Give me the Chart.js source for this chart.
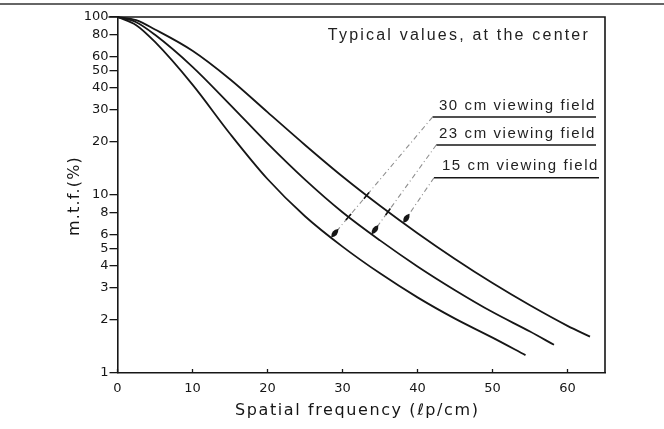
<!DOCTYPE html>
<html>
<head>
<meta charset="utf-8">
<script src="https://cdn.jsdelivr.net/npm/chart.js@4.4.1/dist/chart.umd.min.js"></script>
<style>
  html, body { margin: 0; padding: 0; background: #fff; }
  #wrap { width: 664px; height: 429px; }
</style>
</head>
<body>
<div id="wrap"><canvas id="mtf" width="664" height="429"></canvas></div>
<script>
// spatial frequency (lp/cm) and m.t.f. (%)
const freq30 = [0, 2.5, 5, 10, 15, 20, 25, 30, 35, 40, 45, 50, 54.4];
const mtf30 = [100, 90, 72.4, 41.7, 22.1, 12.3, 7.6, 5.13, 3.63, 2.66, 2.02, 1.58, 1.26];
const freq23 = [0, 2.5, 5, 10, 15, 20, 25, 30, 35, 40, 45, 50, 55, 58.2];
const mtf23 = [100, 93.5, 79.4, 52.5, 32.2, 19.5, 12.2, 8.0, 5.56, 3.97, 2.92, 2.2, 1.71, 1.44];
const freq15 = [0, 2.5, 5, 10, 15, 20, 25, 30, 35, 40, 45, 50, 55, 60, 63];
const mtf15 = [100, 96, 85.1, 64.6, 44.7, 29.2, 19.1, 12.7, 8.7, 6.1, 4.37, 3.2, 2.4, 1.84, 1.6];
const fieldLabels = ['30 cm viewing field', '23 cm viewing field', '15 cm viewing field'];
const xTicks = [0, 10, 20, 30, 40, 50, 60];
const yTicks = [1, 2, 3, 4, 5, 6, 8, 10, 20, 30, 40, 50, 60, 80, 100];
const note = 'Typical values, at the center';
const xTitle = 'Spatial frequency (ℓp/cm)';
const yTitle = 'm.t.f.(%)';

const series = [[freq30, mtf30], [freq23, mtf23], [freq15, mtf15]];

// where each label sits and where its leader points (data units)
const callouts = [
  { line: [42.0, 63.8], at: 27.4, arrowX: 28.5 },
  { line: [42.5, 63.8], at: 19.1, arrowX: 33.9 },
  { line: [42.2, 64.2], at: 12.5, arrowX: 38.1 }
];

const ink = '#161616';

function valueAt(s, x) {
  const xs = series[s][0], ys = series[s][1];
  if (x < xs[0] || x > xs[xs.length - 1]) return null;
  for (let i = 1; i < xs.length; i++) {
    if (x <= xs[i]) {
      const t = (x - xs[i - 1]) / (xs[i] - xs[i - 1]);
      const a = Math.log10(ys[i - 1]), b = Math.log10(ys[i]);
      return Math.pow(10, a + t * (b - a));
    }
  }
  return null;
}

function arrowHead(ctx, x, y, dx, dy) {
  const len = 11, w = 3.4;
  const nx = -dy, ny = dx;
  const bx = x + dx * len, by = y + dy * len;
  const mx = x + dx * len * 0.5, my = y + dy * len * 0.5;
  ctx.beginPath();
  ctx.moveTo(x, y);
  ctx.quadraticCurveTo(mx + nx * w * 1.5, my + ny * w * 1.5, bx, by);
  ctx.quadraticCurveTo(mx - nx * w * 1.5, my - ny * w * 1.5, x, y);
  ctx.fill();
}

const extras = {
  id: 'extras',
  afterDraw(chart) {
    const { ctx, chartArea: ca } = chart;
    const xs = chart.scales.x, ys = chart.scales.y;
    ctx.save();

    // scan border line at the top of the page
    ctx.strokeStyle = '#333';
    ctx.lineWidth = 1.5;
    ctx.beginPath();
    ctx.moveTo(0, 4); ctx.lineTo(664, 4);
    ctx.stroke();

    // frame top and right
    ctx.strokeStyle = ink;
    ctx.lineWidth = 1.6;
    ctx.beginPath();
    ctx.moveTo(ca.left - 9, ca.top);
    ctx.lineTo(ca.right, ca.top);
    ctx.lineTo(ca.right, ca.bottom);
    ctx.stroke();

    // inner x ticks
    ctx.lineWidth = 1.3;
    xTicks.forEach(v => {
      const px = xs.getPixelForValue(v);
      ctx.beginPath();
      ctx.moveTo(px, ca.bottom);
      ctx.lineTo(px, ca.bottom - 4);
      ctx.stroke();
    });

    // axis titles, letter-spaced like the print
    ctx.fillStyle = ink;
    ctx.font = '16px "DejaVu Sans"';
    ctx.letterSpacing = '1.6px';
    ctx.textAlign = 'center';
    ctx.textBaseline = 'middle';
    ctx.fillText(xTitle, (ca.left + ca.right) / 2 - 4, 411);
    ctx.save();
    ctx.translate(75, (ca.top + ca.bottom) / 2 + 1);
    ctx.rotate(-Math.PI / 2);
    ctx.letterSpacing = '1.2px';
    ctx.fillText(yTitle, 0, 0);
    ctx.restore();

    // note
    ctx.fillStyle = '#222';
    ctx.font = '16px "Liberation Sans"';
    ctx.letterSpacing = '2.2px';
    ctx.textAlign = 'right';
    ctx.textBaseline = 'middle';
    ctx.fillText(note, xs.getPixelForValue(63.0), ys.getPixelForValue(79));

    // callouts
    callouts.forEach((c, i) => {
      const x0 = xs.getPixelForValue(c.line[0]);
      const x1 = xs.getPixelForValue(c.line[1]);
      const y0 = ys.getPixelForValue(c.at);

      ctx.strokeStyle = ink;
      ctx.lineWidth = 1.5;
      ctx.setLineDash([]);
      ctx.beginPath();
      ctx.moveTo(x0, y0); ctx.lineTo(x1, y0);
      ctx.stroke();

      ctx.fillStyle = '#222';
      ctx.font = '15px "Liberation Sans"';
      ctx.letterSpacing = '1.6px';
      ctx.textAlign = 'right';
      ctx.textBaseline = 'bottom';
      ctx.fillText(fieldLabels[i], x1, y0 - 4);

      const tx = xs.getPixelForValue(c.arrowX);
      const ty = ys.getPixelForValue(valueAt(i, c.arrowX));
      const L = Math.hypot(tx - x0, ty - y0);
      const dx = (x0 - tx) / L, dy = (y0 - ty) / L;

      ctx.strokeStyle = '#8f8f8f';
      ctx.lineWidth = 1.1;
      ctx.setLineDash([5, 3, 1, 3]);
      ctx.beginPath();
      ctx.moveTo(x0, y0); ctx.lineTo(tx + dx * 9, ty + dy * 9);
      ctx.stroke();
      ctx.setLineDash([]);

      // small marks where the leader crosses the other curves
      for (let s = i + 1; s < series.length; s++) {
        let prev = null;
        for (let t = 0; t <= 1; t += 0.002) {
          const px = x0 + (tx - x0) * t, py = y0 + (ty - y0) * t;
          const v = valueAt(s, xs.getValueForPixel(px));
          if (v === null) { prev = null; continue; }
          const d = py - ys.getPixelForValue(v);
          if (prev !== null && Math.sign(d) !== Math.sign(prev)) {
            ctx.strokeStyle = ink;
            ctx.lineWidth = 1.6;
            ctx.beginPath();
            ctx.moveTo(px - dx * 4, py - dy * 4);
            ctx.lineTo(px + dx * 4, py + dy * 4);
            ctx.stroke();
            break;
          }
          prev = d;
        }
      }

      ctx.fillStyle = ink;
      arrowHead(ctx, tx, ty, dx, dy);
    });

    ctx.restore();
  }
};

const tickFont = { family: 'DejaVu Sans', size: 13 };

new Chart(document.getElementById('mtf'), {
  type: 'line',
  data: {
    datasets: series.map((s, i) => ({
      label: fieldLabels[i],
      data: s[0].map((x, j) => ({ x, y: s[1][j] })),
      borderColor: ink,
      borderWidth: 1.8,
      pointRadius: 0,
      fill: false,
      clip: false,
      cubicInterpolationMode: 'monotone'
    }))
  },
  options: {
    responsive: false,
    animation: false,
    layout: { padding: { top: 17, right: 59, bottom: 0, left: 0 } },
    plugins: { legend: { display: false }, tooltip: { enabled: false } },
    scales: {
      x: {
        type: 'linear', min: 0, max: 65,
        afterBuildTicks: s => { s.ticks = xTicks.map(v => ({ value: v })); },
        afterFit: s => { s.height = 56; },
        grid: { display: false, drawTicks: false },
        border: { display: true, color: ink, width: 1.6 },
        ticks: { color: ink, font: tickFont, padding: 8, maxRotation: 0, autoSkip: false }
      },
      y: {
        type: 'logarithmic', min: 1, max: 100,
        afterBuildTicks: s => { s.ticks = yTicks.map(v => ({ value: v })); },
        afterFit: s => { s.width = 117.5; },
        grid: { display: true, drawOnChartArea: false, drawTicks: true, tickLength: 8, color: ink, lineWidth: 1.3 },
        border: { display: true, color: ink, width: 1.6 },
        ticks: { color: ink, font: tickFont, padding: 1, autoSkip: false, callback: v => String(v) }
      }
    }
  },
  plugins: [extras]
});
</script>
</body>
</html>
